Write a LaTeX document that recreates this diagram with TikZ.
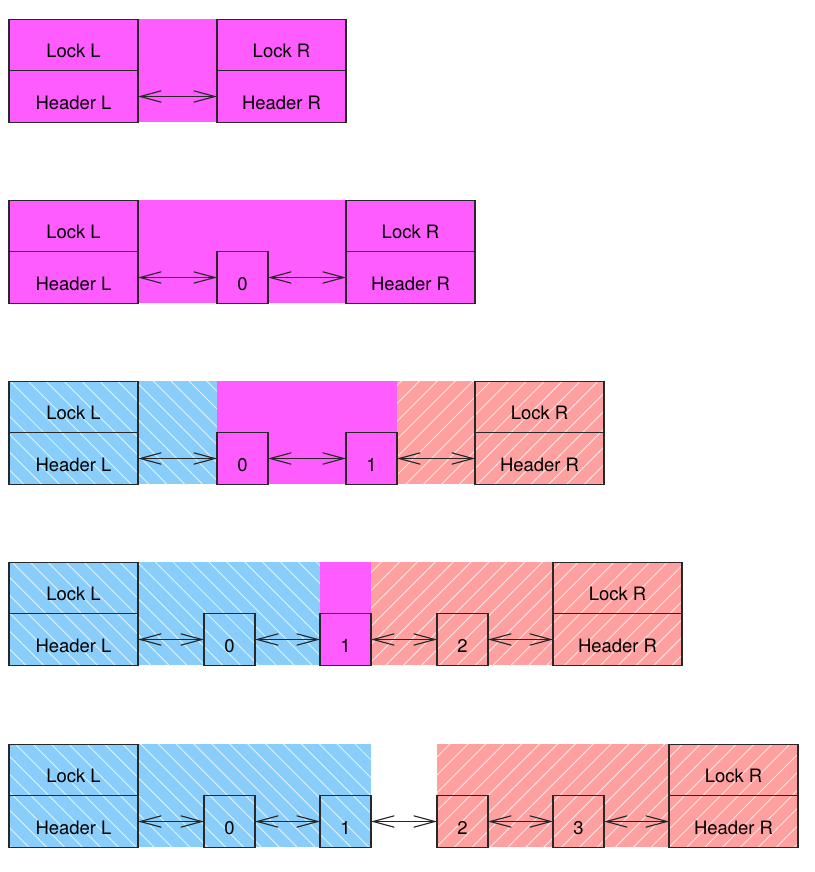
\documentclass[tikz,border=0pt]{standalone}
\usepackage{fontspec}
\setmainfont{TeX Gyre Heros}
\usetikzlibrary{arrows.meta,positioning,patterns.meta,backgrounds}

\definecolor{heldmag}{RGB}{255,92,255}
\definecolor{leftblue}{RGB}{137,206,250}
\definecolor{rightred}{RGB}{255,160,160}
\definecolor{edge}{RGB}{40,40,40}

\begin{document}
\begin{tikzpicture}[
  font=\fontsize{10.5}{12}\selectfont,
  >={Straight Barb[length=12pt, width=6.5pt]},
  cell/.style={draw=edge, line width=0.7pt, inner sep=0pt, outer sep=0pt, minimum width=2.58cm, minimum height=1.03cm, text height=14.4pt, text depth=0pt},
  item/.style={draw=edge, line width=0.7pt, inner sep=0pt, outer sep=0pt, minimum width=1.02cm, minimum height=1.03cm, text height=14.4pt, text depth=0pt},
  link/.style={<->, draw=edge, line width=0.65pt},
  held/.style={fill=heldmag},
  leftside/.style={preaction={fill=leftblue}, pattern={Lines[angle=-45, distance=7.2pt, line width=0.5pt]}, pattern color=leftblue!25!white},
  rightside/.style={preaction={fill=rightred}, pattern={Lines[angle=45, distance=7.2pt, line width=0.5pt]}, pattern color=rightred!25!white}
]
\useasboundingbox (0,0) rectangle (16.28,-17.44);

% row 1: empty list
\node[cell] (ll1) at (1.47,-0.9) {Lock L};
\node[cell, below=0pt of ll1] (hl1) {Header L};
\node[cell, right=1.58cm of hl1] (hr1) {Header R};
\node[cell, above=0pt of hr1] (lr1) {Lock R};
\draw[link] (hl1) -- (hr1);

% row 2: one element
\node[cell, below=1.56cm of hl1] (ll2) {Lock L};
\node[cell, below=0pt of ll2] (hl2) {Header L};
\node[item, right=1.58cm of hl2] (n02) {0};
\node[cell, right=1.56cm of n02] (hr2) {Header R};
\node[cell, above=0pt of hr2] (lr2) {Lock R};
\draw[link] (hl2) -- (n02);
\draw[link] (n02) -- (hr2);

% row 3: two elements
\node[cell, below=1.56cm of hl2] (ll3) {Lock L};
\node[cell, below=0pt of ll3] (hl3) {Header L};
\node[item, right=1.58cm of hl3] (n03) {0};
\node[item, right=1.56cm of n03] (n13) {1};
\node[cell, right=1.56cm of n13] (hr3) {Header R};
\node[cell, above=0pt of hr3] (lr3) {Lock R};
\draw[link] (hl3) -- (n03);
\draw[link] (n03) -- (n13);
\draw[link] (n13) -- (hr3);

% row 4: three elements
\node[cell, below=1.56cm of hl3] (ll4) {Lock L};
\node[cell, below=0pt of ll4] (hl4) {Header L};
\node[item, right=1.32cm of hl4] (n04) {0};
\node[item, right=1.30cm of n04] (n14) {1};
\node[item, right=1.32cm of n14] (n24) {2};
\node[cell, right=1.30cm of n24] (hr4) {Header R};
\node[cell, above=0pt of hr4] (lr4) {Lock R};
\draw[link] (hl4) -- (n04);
\draw[link] (n04) -- (n14);
\draw[link] (n14) -- (n24);
\draw[link] (n24) -- (hr4);

% row 5: four elements
\node[cell, below=1.58cm of hl4] (ll5) {Lock L};
\node[cell, below=0pt of ll5] (hl5) {Header L};
\node[item, right=1.32cm of hl5] (n05) {0};
\node[item, right=1.30cm of n05] (n15) {1};
\node[item, right=1.32cm of n15] (n25) {2};
\node[item, right=1.30cm of n25] (n35) {3};
\node[cell, right=1.30cm of n35] (hr5) {Header R};
\node[cell, above=0pt of hr5] (lr5) {Lock R};
\draw[link] (hl5) -- (n05);
\draw[link] (n05) -- (n15);
\draw[link] (n15) -- (n25);
\draw[link] (n25) -- (n35);
\draw[link] (n35) -- (hr5);

% shaded regions
\begin{scope}[on background layer]
  \path[held] (ll1.north west) rectangle (hr1.south east);
  \path[held] (ll2.north west) rectangle (hr2.south east);
  \path[leftside] (ll3.north west) rectangle (n03.south west);
  \path[held] (n03.south west) rectangle (n13.east |- ll3.north);
  \path[rightside] (n13.south east) rectangle (lr3.north east);
  \path[leftside] (ll4.north west) rectangle (n14.south west);
  \path[held] (n14.south west) rectangle (n14.east |- ll4.north);
  \path[rightside] (n14.south east) rectangle (lr4.north east);
  \path[leftside] (ll5.north west) rectangle (n15.south east);
  \path[rightside] (n25.south west) rectangle (lr5.north east);
\end{scope}
\end{tikzpicture}
\end{document}
